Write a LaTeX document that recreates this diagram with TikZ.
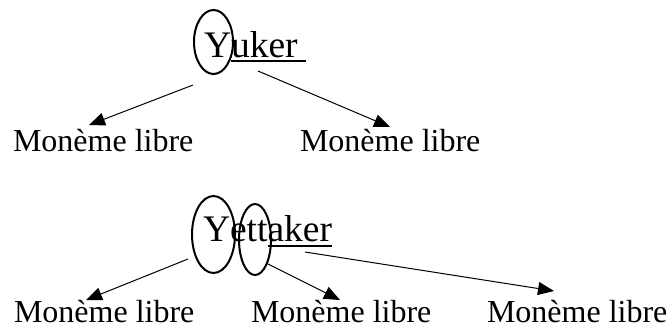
\documentclass[tikz,border=0pt]{standalone}
\usepackage{fontspec}
\setmainfont{Liberation Serif}
\usetikzlibrary{arrows.meta,shapes.geometric,calc}
\begin{document}
\begin{tikzpicture}[x=1pt,y=-1pt,
  lbl/.style={inner sep=0,outer sep=0,anchor=base west,font=\fontsize{32}{38}\selectfont},
  word/.style={inner sep=0,outer sep=0,anchor=base west,font=\fontsize{37.5}{45}\selectfont},
  oval/.style={draw,ellipse,line width=2pt,inner sep=0},
  uline/.style={line width=2pt},
  arr/.style={line width=1pt,-{Triangle[length=16pt,width=13pt]}}]
\useasboundingbox (0,0) rectangle (669,329);
% Row 1
\node[word] (y1) at (204,57) {Y};
\node[word] (u1) at (y1.base east) {uker};
\draw[uline] ($(u1.base west)+(0,4.5)$) -- ($(u1.base west)+(75,4.5)$);
\node[oval,minimum width=39pt,minimum height=64pt] (e1) at (213.5,42) {};
\node[lbl] (m1) at (13,151) {Monème libre};
\node[lbl] (m2) at (300,151) {Monème libre};
\coordinate (s1) at (193,85);
\coordinate (s2) at (258,71);
\coordinate (t1) at (89,125);
\coordinate (t2) at (390,127);
\draw[arr] (s1) -- (t1);
\draw[arr] (s2) -- (t2);
% Row 2
\node[word] (y2) at (203,241) {Y};
\node[word] (ett) at (y2.base east) {ett};
\node[word] (ak) at (ett.base east) {aker};
\draw[uline] ($(ak.base west)+(0,4.5)$) -- ($(ak.base east)+(0,4.5)$);
\node[oval,minimum width=43pt,minimum height=77pt] (e2) at (213.5,234.5) {};
\node[oval,minimum width=32pt,minimum height=71pt] (e3) at (255,239.5) {};
\node[lbl] (m3) at (14,322) {Monème libre};
\node[lbl] (m4) at (251,322) {Monème libre};
\node[lbl] (m5) at (487,322) {Monème libre};
\coordinate (s3) at (188,259);
\coordinate (s4) at (268,264);
\coordinate (s5) at (305,252);
\coordinate (t3) at (86,300);
\coordinate (t4) at (340,300);
\coordinate (t5) at (554,291);
\draw[arr] (s3) -- (t3);
\draw[arr] (s4) -- (t4);
\draw[arr] (s5) -- (t5);
\end{tikzpicture}
\end{document}
